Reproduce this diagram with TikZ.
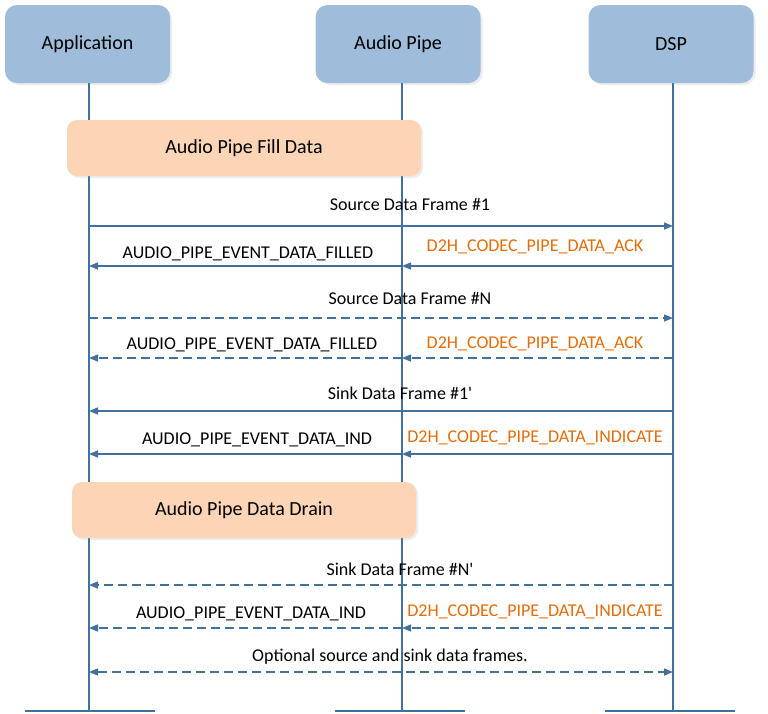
\documentclass[tikz,border=0pt]{standalone}
\usepackage{fontspec}
\setmainfont{Carlito}
\usetikzlibrary{arrows.meta,shadows}
\definecolor{ln}{HTML}{41719C}
\definecolor{hd}{HTML}{9FBDDA}
\definecolor{pc}{HTML}{FBD5B5}
\definecolor{og}{HTML}{E46C0A}
\begin{document}
\begin{tikzpicture}[x=1pt,y=-1pt,
 head/.style={draw=none,fill=hd,rounded corners=12pt,minimum width=165pt,minimum height=78pt,font=\fontsize{20}{22}\selectfont,drop shadow={opacity=0.15,shadow xshift=2pt,shadow yshift=-2pt}},
 phase/.style={draw=none,fill=pc,rounded corners=10pt,minimum height=56pt,font=\fontsize{20}{22}\selectfont,drop shadow={opacity=0.15,shadow xshift=2pt,shadow yshift=-2pt}},
 life/.style={ln,line width=1.2pt},
 msg/.style={ln,line width=1.4pt,-{Triangle[length=9pt,width=7pt]}},
 dmsg/.style={msg,dash pattern=on 9pt off 5pt},
 lab/.style={font=\fontsize{18}{20}\selectfont},
 olab/.style={lab,text=og}]
\useasboundingbox (0,0) rectangle (768,713);
\node[head] (app) at (87.5,44) {Application};
\node[head] (pipe) at (398,44) {Audio Pipe};
\node[head] (dsp) at (671,44) {DSP};
\coordinate (aB) at (89,711); \coordinate (pB) at (402,711); \coordinate (dB) at (673,711);
\draw[life] (89,83) -- (aB);
\draw[life] (402,83) -- (pB);
\draw[life] (673,83) -- (dB);
\draw[life] (25,711) -- (155,711);
\draw[life] (335,711) -- (465,711);
\draw[life] (605,711) -- (735,711);
\node[phase,minimum width=354pt] (fill) at (244,148) {Audio Pipe Fill Data};
\node[phase,minimum width=344pt] (drain) at (244,510) {Audio Pipe Data Drain};
\foreach \n/\y in {1/226,2/266,3/318,4/358,5/411,6/454,7/585,8/628,9/672}{
 \coordinate (a\n) at (89,\y); \coordinate (p\n) at (402,\y); \coordinate (d\n) at (673,\y);}
\draw[msg] (a1) -- (d1);
\node[lab] (l1) at (410,204) {Source Data Frame \#1};
\draw[msg] (d2) -- (p2); \draw[msg] (p2) -- (a2);
\node[lab] (l2) at (248,254) {AUDIO\_PIPE\_EVENT\_DATA\_FILLED};
\node[olab] (o2) at (535,247) {D2H\_CODEC\_PIPE\_DATA\_ACK};
\draw[dmsg] (a3) -- (d3);
\node[lab] (l3) at (410,298) {Source Data Frame \#N};
\draw[dmsg] (d4) -- (p4); \draw[dmsg] (p4) -- (a4);
\node[lab] (l4) at (252,345) {AUDIO\_PIPE\_EVENT\_DATA\_FILLED};
\node[olab] (o4) at (535,344) {D2H\_CODEC\_PIPE\_DATA\_ACK};
\draw[msg] (d5) -- (a5);
\node[lab] (l5) at (400,393) {Sink Data Frame \#1\textquotesingle};
\draw[msg] (d6) -- (p6); \draw[msg] (p6) -- (a6);
\node[lab] (l6) at (257,440) {AUDIO\_PIPE\_EVENT\_DATA\_IND};
\node[olab] (o6) at (535,438) {D2H\_CODEC\_PIPE\_DATA\_INDICATE};
\draw[dmsg] (d7) -- (a7);
\node[lab] (l7) at (400,569) {Sink Data Frame \#N\textquotesingle};
\draw[dmsg] (d8) -- (p8); \draw[dmsg] (p8) -- (a8);
\node[lab] (l8) at (251,614) {AUDIO\_PIPE\_EVENT\_DATA\_IND};
\node[olab] (o8) at (535,612) {D2H\_CODEC\_PIPE\_DATA\_INDICATE};
\draw[dmsg,{Triangle[length=9pt,width=7pt]}-{Triangle[length=9pt,width=7pt]}] (a9) -- (d9);
\node[lab] (l9) at (390,657) {Optional source and sink data frames.};
\end{tikzpicture}
\end{document}
